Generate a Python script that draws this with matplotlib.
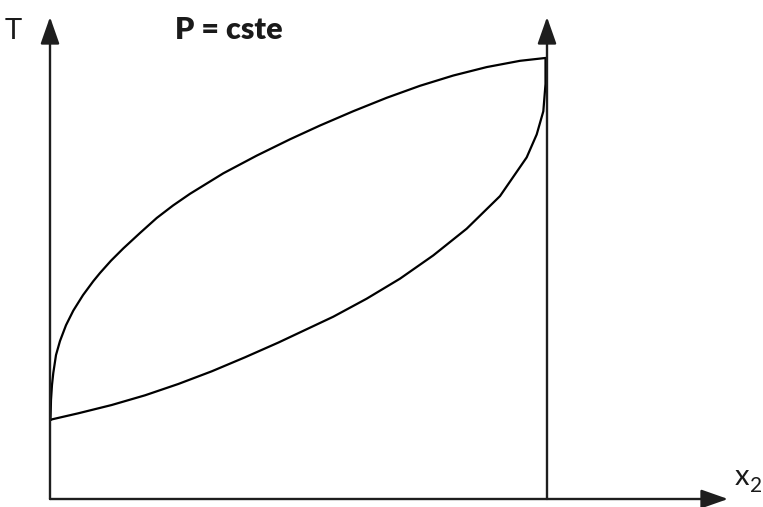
import matplotlib
matplotlib.use("Agg")
import matplotlib.pyplot as plt
import numpy as np

# curves: x2 (mole fraction) and T (arbitrary units)
x2_upper = [0.001, 0.002, 0.004, 0.0066, 0.0121, 0.0201, 0.0322, 0.0469, 0.0664,
            0.0871, 0.1006, 0.1227, 0.1475, 0.1811, 0.2147, 0.2475, 0.2817,
            0.3487, 0.4159, 0.4829, 0.5433, 0.6103, 0.6775, 0.7445, 0.8115,
            0.8787, 0.9457, 0.9926, 0.997]
T_upper = [16.39, 20.54, 23.65, 26.14, 29.88, 32.78, 36.06, 39.09, 42.30,
           45.19, 46.89, 49.44, 51.99, 55.19, 58.30, 60.89, 63.32,
           67.57, 71.24, 74.63, 77.49, 80.46, 83.24, 85.73, 87.86,
           89.61, 90.91, 91.45, 91.5]

x2_lower = [0.001, 0.0046, 0.0569, 0.1241, 0.1911, 0.2581, 0.3254, 0.3924,
            0.4594, 0.57, 0.6372, 0.7042, 0.7712, 0.8384, 0.9054, 0.9591,
            0.9793, 0.9926, 0.997, 0.997]
T_lower = [16.39, 16.54, 17.78, 19.50, 21.51, 23.86, 26.49, 29.40,
           32.45, 37.82, 41.56, 45.71, 50.54, 56.08, 62.84, 70.87,
           75.64, 80.44, 86.10, 91.5]

lab_T = "T"
lab_x = "x"
lab_sub = "2"
title = "P = cste"

# pixel mapping: x2=0 -> 50 px, x2=1 -> 547 px ; T=0 -> 499 px, 4.82 px per unit
fig = plt.figure(figsize=(7.63, 5.07), dpi=100)
ax = fig.add_axes([0, 0, 1, 1])
ax.set_xlim(-50 / 497, 713 / 497)
ax.set_ylim(-8 / 4.82, 499 / 4.82)
ax.axis("off")

ax.plot(x2_upper, T_upper, color="black", lw=1.6, solid_capstyle="round",
        solid_joinstyle="round")
ax.plot(x2_lower, T_lower, color="black", lw=1.6, solid_capstyle="round",
        solid_joinstyle="round")

arw = dict(arrowstyle="-|>,head_length=1.65,head_width=0.58", lw=1.7,
           color="#1e1e1e", shrinkA=0, shrinkB=0, mutation_scale=10)
ax.annotate("", xy=(0, 482 / 4.82), xytext=(0, 0), arrowprops=arw)
ax.annotate("", xy=(1, 482 / 4.82), xytext=(1, 0), arrowprops=arw)
ax.annotate("", xy=(678 / 497, 0), xytext=(0, 0), arrowprops=arw)

ax.text(-45 / 497, 460 / 4.82, lab_T, fontsize=21, family="Lato",
        ha="left", va="baseline", color="#1a1a1a")
ax.text(125 / 497, 460 / 4.82, title, fontsize=22, family="Lato",
        fontweight="heavy", ha="left", va="baseline", color="#1a1a1a")
ax.text(685 / 497, 14 / 4.82, lab_x, fontsize=21, family="Lato",
        ha="left", va="baseline", color="#1a1a1a")
ax.text(700 / 497, 7 / 4.82, lab_sub, fontsize=15, family="Lato",
        ha="left", va="baseline", color="#1a1a1a")

fig.savefig("out.png", dpi=100)
